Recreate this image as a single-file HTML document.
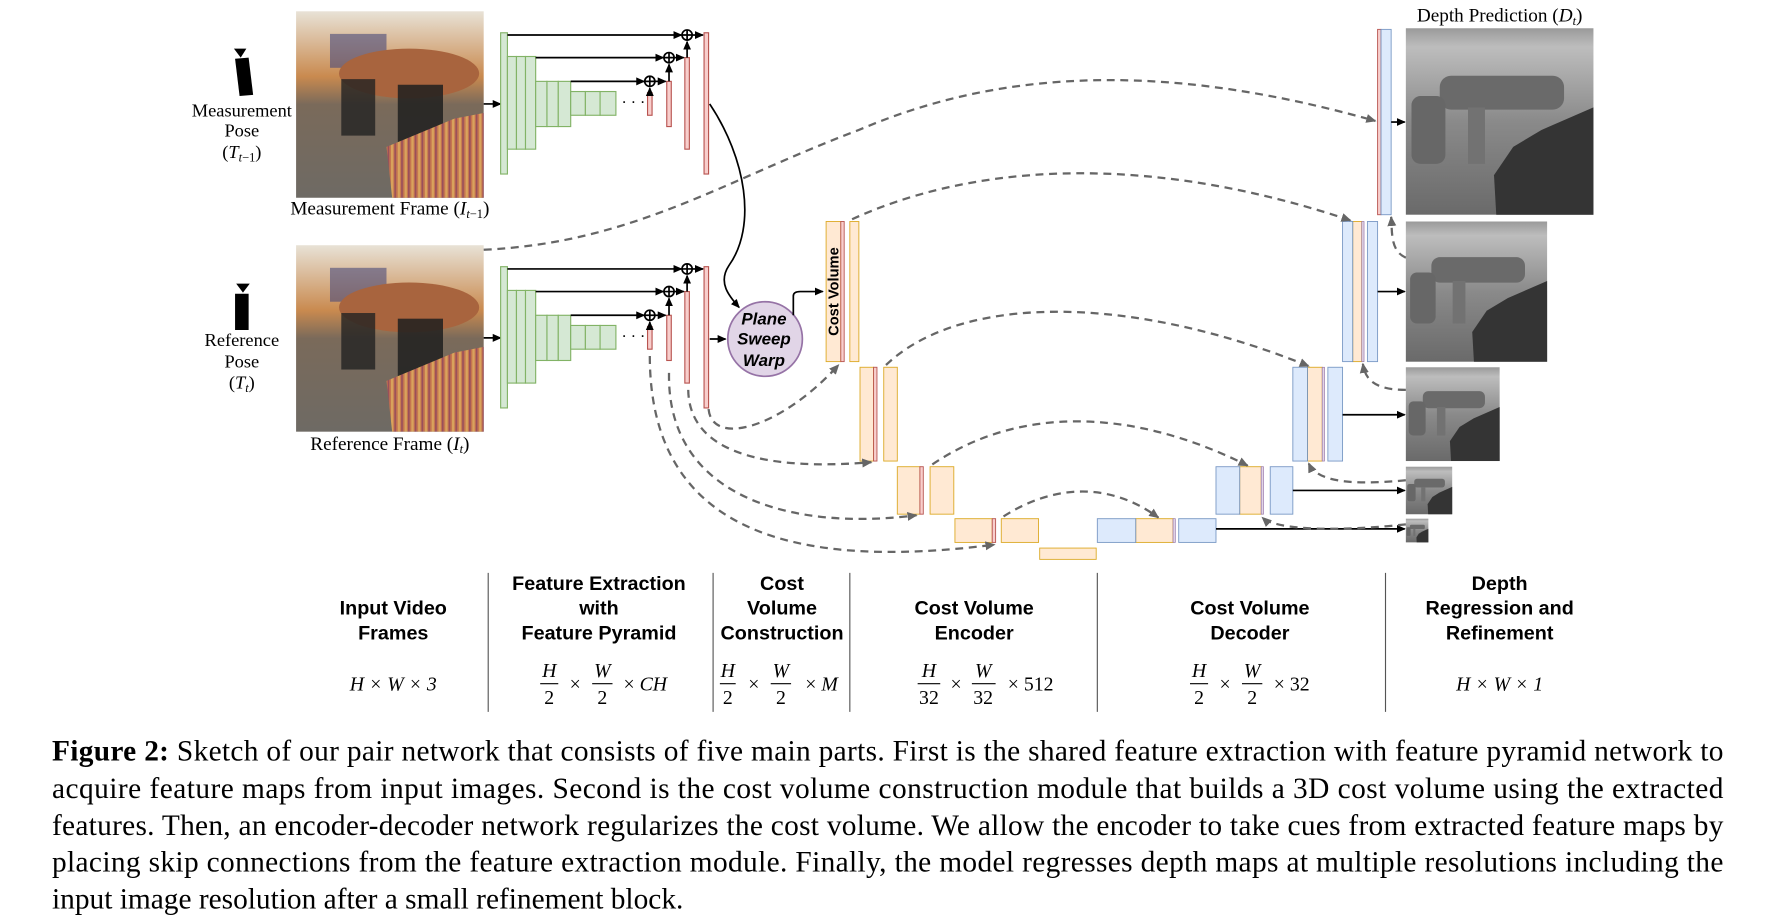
<!DOCTYPE html>
<html><head><meta charset="utf-8"><style>
html,body{margin:0;padding:0;background:#fff;}
svg{display:block;}
.ser{font-family:"Liberation Serif",serif;}
.sans{font-family:"Liberation Sans",sans-serif;}
</style></head><body>
<svg width="1772" height="922" viewBox="0 0 1568 815.9" preserveAspectRatio="none" xmlns="http://www.w3.org/2000/svg">
<defs>
<marker id="ah" markerWidth="8" markerHeight="8" refX="7" refY="4" orient="auto" markerUnits="userSpaceOnUse"><path d="M0,0.5 L8,4 L0,7.5z" fill="#000"/></marker>
<marker id="ag" markerWidth="9" markerHeight="9" refX="8" refY="4.5" orient="auto" markerUnits="userSpaceOnUse"><path d="M0,0.5 L9,4.5 L0,8.5z" fill="#666"/></marker>
<linearGradient id="wall" x1="0" y1="0" x2="0" y2="1"><stop offset="0" stop-color="#e8e2d6"/><stop offset="0.35" stop-color="#c98a4f"/><stop offset="0.5" stop-color="#7a6a5a"/><stop offset="1" stop-color="#6e6a64"/></linearGradient>
<pattern id="stripe" width="6" height="10" patternUnits="userSpaceOnUse"><rect width="6" height="10" fill="#c5764f"/><rect width="2" height="10" fill="#d9a35c"/><rect x="3" width="1.5" height="10" fill="#9a4f5a"/></pattern>
<linearGradient id="dep" x1="0" y1="0" x2="0" y2="1"><stop offset="0" stop-color="#9a9a9a"/><stop offset="0.1" stop-color="#bdbdbd"/><stop offset="0.5" stop-color="#8a8a8a"/><stop offset="1" stop-color="#6a6a6a"/></linearGradient>
<g id="room">
<rect width="166" height="165" fill="url(#wall)"/>
<rect x="30" y="20" width="50" height="30" fill="#4a4a7a" opacity="0.6"/>
<ellipse cx="100" cy="55" rx="62" ry="22" fill="#a8643e"/>
<rect x="40" y="60" width="30" height="50" fill="#222" opacity="0.8"/>
<rect x="90" y="65" width="40" height="55" fill="#1e1e1e" opacity="0.85"/>
<path d="M85,165 L80,120 L140,95 L166,90 L166,165z" fill="url(#stripe)"/>
</g>
<g id="depth">
<rect width="166" height="165" fill="url(#dep)"/>
<rect x="30" y="42" width="110" height="30" rx="10" fill="#6a6a6a"/>
<rect x="5" y="60" width="30" height="60" rx="8" fill="#676767"/>
<rect x="55" y="70" width="15" height="50" fill="#727272"/>
<path d="M80,165 L78,130 L95,105 L120,90 L166,70 L166,165z" fill="#343434"/>
</g>
</defs>

<g fill="#000">
<polygon points="207,43 218,43 213,51"/><polygon points="208,52 220,51 224,84 212,85"/>
<polygon points="209,251 221,251 215,259"/><polygon points="208,260 220,260 220,292 208,292"/>
</g>
<g class="ser" font-size="16.3" text-anchor="middle" fill="#000">
<text x="214" y="103">Measurement</text><text x="214" y="121">Pose</text>
<text x="214" y="140">(<tspan font-style="italic">T</tspan><tspan font-size="11" font-style="italic" dy="3">t</tspan><tspan font-size="11" dy="0">−1</tspan><tspan dy="-3">)</tspan></text>
<text x="214" y="306">Reference</text><text x="214" y="325">Pose</text>
<text x="214" y="344">(<tspan font-style="italic">T</tspan><tspan font-size="11" font-style="italic" dy="3">t</tspan><tspan dy="-3">)</tspan></text>
</g>
<g class="ser" font-size="17" text-anchor="middle" fill="#000">
<text x="345" y="190">Measurement Frame (<tspan font-style="italic">I</tspan><tspan font-size="11" dy="3"><tspan font-style="italic">t</tspan>−1</tspan><tspan dy="-3">)</tspan></text>
<text x="345" y="398">Reference Frame (<tspan font-style="italic">I</tspan><tspan font-size="11" font-style="italic" dy="3">t</tspan><tspan dy="-3">)</tspan></text>
<text x="1327" y="19">Depth Prediction (<tspan font-style="italic">D</tspan><tspan font-size="11" font-style="italic" dy="3">t</tspan><tspan dy="-3">)</tspan></text>
</g>
<use href="#room" x="262" y="10"/>
<use href="#room" x="262" y="217"/>

<g id="pyr">
<line x1="428" y1="92" x2="443" y2="92" stroke="#000" stroke-width="1.5" marker-end="url(#ah)"/>
<g fill="#d5e8d4" stroke="#82b366" stroke-width="1">
<rect x="443" y="29" width="6" height="125"/>
<rect x="449" y="50" width="8" height="82"/><rect x="457" y="50" width="8" height="82"/><rect x="465" y="50" width="9" height="82"/>
<rect x="474" y="72" width="10" height="40"/><rect x="484" y="72" width="10" height="40"/><rect x="494" y="72" width="11" height="40"/>
<rect x="505" y="81" width="13" height="21"/><rect x="518" y="81" width="13" height="21"/><rect x="531" y="81" width="14" height="21"/>
</g>
<text x="550" y="95" font-size="14" class="ser">· · ·</text>
<g fill="#f8cecc" stroke="#b85450" stroke-width="1">
<rect x="573" y="82" width="4" height="20"/><rect x="590" y="72" width="4" height="40"/><rect x="606" y="51" width="4" height="81"/><rect x="623" y="29" width="4" height="125"/>
</g>
<g stroke="#000" stroke-width="1.5" fill="none">
<line x1="449" y1="31" x2="603" y2="31" marker-end="url(#ah)"/>
<line x1="474" y1="51" x2="587" y2="51" marker-end="url(#ah)"/>
<line x1="505" y1="72" x2="570" y2="72" marker-end="url(#ah)"/>
<line x1="613" y1="31" x2="622" y2="31" marker-end="url(#ah)"/>
<line x1="597" y1="51" x2="605" y2="51" marker-end="url(#ah)"/>
<line x1="580" y1="72" x2="589" y2="72" marker-end="url(#ah)"/>
<line x1="608" y1="51" x2="608" y2="37" marker-end="url(#ah)"/>
<line x1="592" y1="72" x2="592" y2="57" marker-end="url(#ah)"/>
<line x1="575" y1="82" x2="575" y2="78" marker-end="url(#ah)"/>
<circle cx="608" cy="31" r="4.5" fill="#fff"/><path d="M603.5,31h9M608,26.5v9"/>
<circle cx="592" cy="51" r="4.5" fill="#fff"/><path d="M587.5,51h9M592,46.5v9"/>
<circle cx="575" cy="72" r="4.5" fill="#fff"/><path d="M570.5,72h9M575,67.5v9"/>
</g>
</g>
<use href="#pyr" y="207"/>

<path d="M628,92 C660,140 670,200 645,235 C635,250 645,262 654,272" stroke="#000" stroke-width="1.5" fill="none" marker-end="url(#ah)"/>
<line x1="628" y1="300" x2="642" y2="300" stroke="#000" stroke-width="1.5" marker-end="url(#ah)"/>
<circle cx="677" cy="300" r="33" fill="#e1d5e7" stroke="#9673a6" stroke-width="1.5"/>
<g class="sans" font-weight="bold" font-style="italic" font-size="15" text-anchor="middle"><text x="676" y="287">Plane</text><text x="676" y="305">Sweep</text><text x="676" y="324">Warp</text></g>
<path d="M702,279 L702,262 Q702,258 708,258 L728,258" stroke="#000" stroke-width="1.5" fill="none" marker-end="url(#ah)"/>

<g fill="#ffe6cc" stroke="#d79b00" stroke-width="0.8" opacity="0.85">
<rect x="731" y="196" width="13" height="124"/><rect x="752" y="196" width="8" height="124"/>
<rect x="761" y="325" width="12" height="83"/><rect x="782" y="325" width="12" height="83"/>
<rect x="794" y="413" width="20" height="42"/><rect x="823" y="413" width="21" height="42"/>
<rect x="845" y="459" width="33" height="21"/><rect x="886" y="459" width="33" height="21"/>
<rect x="920" y="485" width="50" height="10"/>
<rect x="1005" y="459" width="33" height="21"/><rect x="1097" y="413" width="19" height="42"/><rect x="1157" y="325" width="13" height="83"/><rect x="1197" y="196" width="8" height="124"/>
</g>
<g fill="#f8cecc" stroke="#b85450" stroke-width="0.8">
<rect x="744" y="196" width="3" height="124"/><rect x="773" y="325" width="3" height="83"/><rect x="814" y="413" width="3" height="42"/><rect x="878" y="459" width="3" height="21"/>
<rect x="1219" y="26" width="3" height="164"/>
</g>
<g fill="#e1d5e7" stroke="#9673a6" stroke-width="0.6">
<rect x="1116" y="413" width="2" height="42"/><rect x="1170" y="325" width="2" height="83"/><rect x="1205" y="196" width="2" height="124"/><rect x="1038" y="459" width="2" height="21"/>
</g>
<text transform="translate(742,258) rotate(-90)" text-anchor="middle" class="sans" font-weight="bold" font-size="13">Cost Volume</text>
<g fill="#dae8fc" stroke="#6c8ebf" stroke-width="0.8" opacity="0.9">
<rect x="971" y="459" width="34" height="21"/><rect x="1043" y="459" width="33" height="21"/>
<rect x="1076" y="413" width="21" height="42"/><rect x="1124" y="413" width="20" height="42"/>
<rect x="1144" y="325" width="13" height="83"/><rect x="1175" y="325" width="13" height="83"/>
<rect x="1188" y="196" width="9" height="124"/><rect x="1210" y="196" width="9" height="124"/>
<rect x="1222" y="26" width="9" height="164"/>
</g>
<g stroke="#000" stroke-width="1.5" marker-end="url(#ah)">
<line x1="1076" y1="468" x2="1243" y2="468"/><line x1="1144" y1="434" x2="1243" y2="434"/><line x1="1188" y1="367" x2="1243" y2="367"/><line x1="1219" y1="258" x2="1243" y2="258"/><line x1="1231" y1="108" x2="1243" y2="108"/>
</g>
<use href="#depth" transform="translate(1244,25)"/>
<use href="#depth" transform="translate(1244,196) scale(0.753,0.752)"/>
<use href="#depth" transform="translate(1244,325) scale(0.5,0.503)"/>
<use href="#depth" transform="translate(1244,413) scale(0.247,0.255)"/>
<use href="#depth" transform="translate(1244,459) scale(0.12,0.127)"/>

<g stroke="#666" stroke-width="2" stroke-dasharray="7,5" fill="none" marker-end="url(#ag)">
<path d="M428,221 C560,215 640,160 760,115 C900,55 1050,60 1217,107"/>
<path d="M754,194 C850,150 1000,130 1195,195"/>
<path d="M627,362 C630,395 690,380 742,323"/>
<path d="M784,323 C850,260 1000,260 1158,324"/>
<path d="M609,345 C610,410 700,415 771,409"/>
<path d="M825,411 C900,360 1000,360 1104,412"/>
<path d="M592,330 C590,440 700,470 811,456"/>
<path d="M888,457 C930,430 980,425 1025,458"/>
<path d="M575,315 C575,470 700,505 880,482"/>
<path d="M1244,228 C1230,222 1232,205 1231,192"/>
<path d="M1244,345 C1215,345 1208,335 1206,322"/>
<path d="M1244,425 C1190,430 1165,425 1158,410"/>
<path d="M1244,464 C1190,470 1130,470 1117,458"/>
</g>

<g stroke="#555" stroke-width="1"><line x1="432" y1="507" x2="432" y2="630"/><line x1="631" y1="507" x2="631" y2="630"/><line x1="752" y1="507" x2="752" y2="630"/><line x1="971" y1="507" x2="971" y2="630"/><line x1="1226" y1="507" x2="1226" y2="630"/></g>
<g class="sans" font-weight="bold" font-size="17.5" text-anchor="middle">
<text x="348" y="544">Input Video</text><text x="348" y="566">Frames</text>
<text x="530" y="522">Feature Extraction</text><text x="530" y="544">with</text><text x="530" y="566">Feature Pyramid</text>
<text x="692" y="522">Cost</text><text x="692" y="544">Volume</text><text x="692" y="566">Construction</text>
<text x="862" y="544">Cost Volume</text><text x="862" y="566">Encoder</text>
<text x="1106" y="544">Cost Volume</text><text x="1106" y="566">Decoder</text>
<text x="1327" y="522">Depth</text><text x="1327" y="544">Regression and</text><text x="1327" y="566">Refinement</text>
</g>
<g class="ser" font-size="17.5" font-style="italic" text-anchor="middle">
<text x="348" y="611">H × W × 3</text>
<text x="486" y="599">H</text><text x="486" y="623" font-style="normal">2</text><line x1="478" y1="605" x2="494" y2="605" stroke="#000"/>
<text x="509" y="611" font-style="normal">×</text>
<text x="533" y="599">W</text><text x="533" y="623" font-style="normal">2</text><line x1="524" y1="605" x2="542" y2="605" stroke="#000"/>
<text x="571" y="611"><tspan font-style="normal">×</tspan> CH</text>
<text x="644" y="599">H</text><text x="644" y="623" font-style="normal">2</text><line x1="637" y1="605" x2="651" y2="605" stroke="#000"/>
<text x="667" y="611" font-style="normal">×</text>
<text x="691" y="599">W</text><text x="691" y="623" font-style="normal">2</text><line x1="682" y1="605" x2="700" y2="605" stroke="#000"/>
<text x="727" y="611"><tspan font-style="normal">×</tspan> M</text>
<text x="822" y="599">H</text><text x="822" y="623" font-style="normal">32</text><line x1="812" y1="605" x2="832" y2="605" stroke="#000"/>
<text x="846" y="611" font-style="normal">×</text>
<text x="870" y="599">W</text><text x="870" y="623" font-style="normal">32</text><line x1="860" y1="605" x2="881" y2="605" stroke="#000"/>
<text x="912" y="611" font-style="normal">× 512</text>
<text x="1061" y="599">H</text><text x="1061" y="623" font-style="normal">2</text><line x1="1053" y1="605" x2="1069" y2="605" stroke="#000"/>
<text x="1084" y="611" font-style="normal">×</text>
<text x="1108" y="599">W</text><text x="1108" y="623" font-style="normal">2</text><line x1="1099" y1="605" x2="1117" y2="605" stroke="#000"/>
<text x="1143" y="611" font-style="normal">× 32</text>
<text x="1327" y="611">H × W × 1</text>
</g>

<g class="ser" font-size="26" fill="#000">
<text x="46" y="673" textLength="1479" lengthAdjust="spacing"><tspan font-weight="bold">Figure 2:</tspan> Sketch of our pair network that consists of five main parts. First is the shared feature extraction with feature pyramid network to</text>
<text x="46" y="706" textLength="1479" lengthAdjust="spacing">acquire feature maps from input images. Second is the cost volume construction module that builds a 3D cost volume using the extracted</text>
<text x="46" y="739" textLength="1479" lengthAdjust="spacing">features. Then, an encoder-decoder network regularizes the cost volume. We allow the encoder to take cues from extracted feature maps by</text>
<text x="46" y="771" textLength="1479" lengthAdjust="spacing">placing skip connections from the feature extraction module. Finally, the model regresses depth maps at multiple resolutions including the</text>
<text x="46" y="804">input image resolution after a small refinement block.</text>
</g>
</svg>
</body></html>
